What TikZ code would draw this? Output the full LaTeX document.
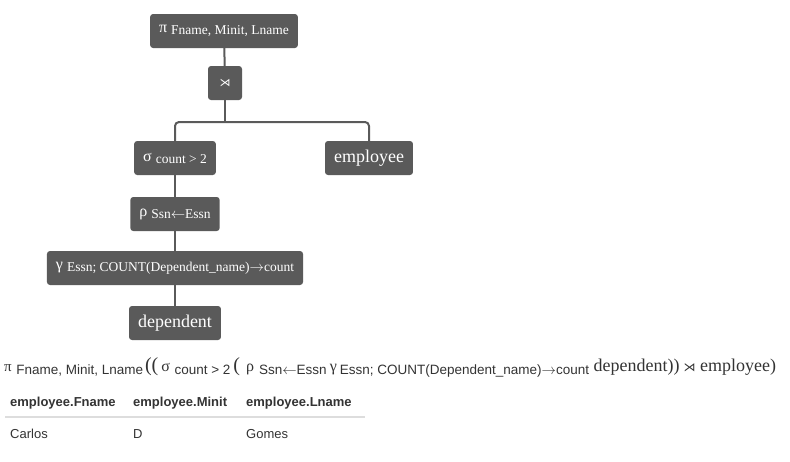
\documentclass[tikz,border=0pt]{standalone}
\usepackage{fontspec}
\setmainfont{Liberation Serif}
\setsansfont{Liberation Sans}
\newfontfamily\symfont{DejaVu Sans}
\usetikzlibrary{positioning}

\definecolor{boxgray}{HTML}{5A5A5A}
\definecolor{rulegray}{HTML}{DDDDDD}
\definecolor{textgray}{HTML}{333333}

% subscripts inside the tree boxes and in the printed expression
\newcommand{\opsub}[1]{\raisebox{-2pt}{\fontsize{13.5}{15}\selectfont #1}}
\newcommand{\exsub}[1]{\raisebox{-3pt}{\sffamily\fontsize{13.5}{15}\selectfont #1}}
\newcommand{\larr}{\ensuremath{\leftarrow}}
\newcommand{\rarr}{\ensuremath{\rightarrow}}
\newcommand{\gap}[1][4.5pt]{\hspace{#1}}

\begin{document}
\begin{tikzpicture}[x=1pt, y=-1pt,%
        op/.style={rectangle, fill=boxgray, text=white, rounded corners=3pt, minimum height=34pt, inner xsep=9pt, font=\fontsize{16}{18}\selectfont},
        rel/.style={op, font=\fontsize{18}{20}\selectfont},
        edge/.style={draw=boxgray, line width=2pt},
        hdr/.style={anchor=base west, inner sep=0pt, text=textgray, font=\sffamily\bfseries\fontsize{13}{15}\selectfont},
        cell/.style={anchor=base west, inner sep=0pt, text=textgray, font=\sffamily\fontsize{13}{15}\selectfont}%
    ]
        \useasboundingbox (0,0) rectangle (790,461);

        % operator tree
        \node[op] (proj) at (224, 31) {π \opsub{Fname, Minit, Lname}};
        \node[op, minimum width=34pt, inner sep=0pt] (join) at (225, 83) {{\symfont\fontsize{11}{12}\selectfont ⋊}};
        \coordinate (fork) at (225, 122);

        \node[op] (sel) at (175, 158) {σ \opsub{count > 2}};
        \node[rel] (emp) at (369, 158) {employee};
        \node[op] (ren) at (175, 214) {ρ \opsub{Ssn\larr Essn}};
        \node[op] (grp) at (175, 268) {γ \opsub{Essn; COUNT(Dependent\_name)\rarr count}};
        \node[rel] (dep) at (175, 323) {dependent};

        \draw[edge] (proj) -- (join);
        \draw[edge] (join) -- (fork);
        \draw[edge, rounded corners=4pt] (sel.north) |- (fork) -| (emp.north);
        \draw[edge] (sel) -- (ren);
        \draw[edge] (ren) -- (grp);
        \draw[edge] (grp) -- (dep);

        % expression as text
        \node[anchor=base west, inner sep=0pt, text=textgray] (expr) at (4, 371) {%
            {\fontsize{15}{16}\selectfont π}\gap\exsub{Fname, Minit, Lname}\gap[2pt]%
            {\fontsize{20}{22}\selectfont ((}\gap[3pt]{\fontsize{16}{16}\selectfont σ}\gap\exsub{count > 2}\gap[3pt]%
            {\fontsize{20}{22}\selectfont (}\gap[6pt]{\fontsize{16}{16}\selectfont ρ}\gap[5pt]\exsub{Ssn\larr Essn}\gap[3pt]%
            {\fontsize{16}{16}\selectfont γ}\gap[3pt]\exsub{Essn; COUNT(Dependent\_name)\rarr count}\gap%
            {\fontsize{18}{20}\selectfont dependent))\gap[4pt]{\symfont\fontsize{12}{14}\selectfont ⋊}\gap employee)}};

        % result table
        \node[hdr] (h1) at (10, 406) {employee.Fname};
        \node[hdr] (h2) at (133, 406) {employee.Minit};
        \node[hdr] (h3) at (246, 406) {employee.Lname};
        \draw[draw=rulegray, line width=2pt] (5, 417) -- (365, 417);
        \node[cell] (c1) at (10, 438) {Carlos};
        \node[cell] (c2) at (133, 438) {D};
        \node[cell] (c3) at (246, 438) {Gomes};
    \end{tikzpicture}
\end{document}
